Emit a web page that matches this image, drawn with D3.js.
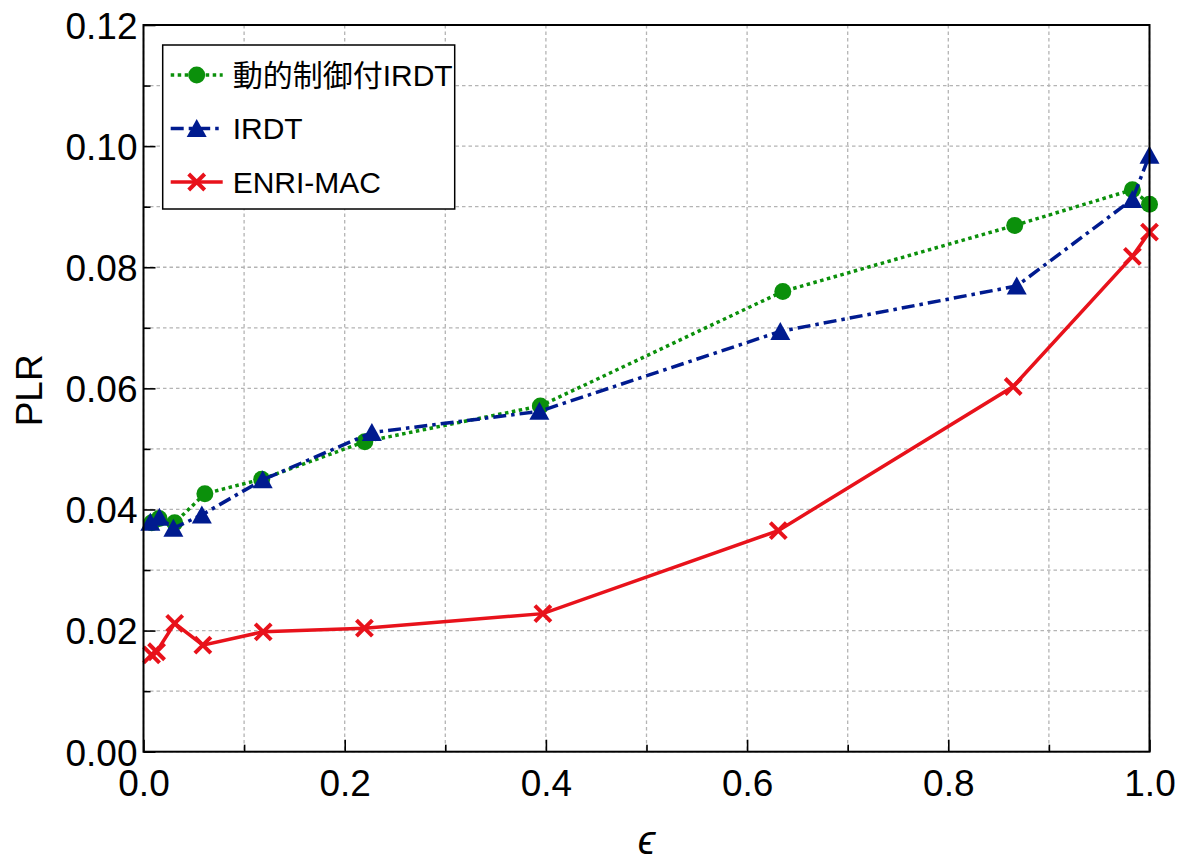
<!DOCTYPE html>
<html>
<head>
<meta charset="utf-8">
<script src="https://cdn.jsdelivr.net/npm/d3@7"></script>
<style>
  body { margin: 0; background: #fff; }
  svg text { font-family: "Liberation Sans", "Noto Sans CJK JP", sans-serif; fill: #000; }
</style>
</head>
<body>
<div id="chart"></div>
<script>
// Data
//---------
var seriesNames = ["動的制御付IRDT", "IRDT", "ENRI-MAC"];

var epsDyn = [0.0082, 0.0155, 0.031, 0.061, 0.1175, 0.220, 0.3945, 0.6355, 0.866, 0.983, 1.0];
var plrDyn = [0.0378, 0.0385, 0.0378, 0.0426, 0.0450, 0.0512, 0.0571, 0.0760, 0.0869, 0.0928, 0.0904];

var epsIrdt = [0.0068, 0.0158, 0.0297, 0.058, 0.1185, 0.227, 0.3935, 0.633, 0.868, 0.983, 1.0];
var plrIrdt = [0.0379, 0.0387, 0.0369, 0.0391, 0.0449, 0.0527, 0.0562, 0.0694, 0.0769, 0.0912, 0.0985];

var epsEnri = [0.008, 0.013, 0.031, 0.059, 0.119, 0.2196, 0.397, 0.631, 0.8645, 0.983, 1.0];
var plrEnri = [0.0160, 0.0165, 0.0212, 0.0176, 0.0198, 0.0204, 0.0228, 0.0365, 0.0603, 0.0818, 0.0858];

var xTicks = [0, 0.2, 0.4, 0.6, 0.8, 1.0];
var xMinor = [0.1, 0.3, 0.5, 0.7, 0.9];
var yTicks = [0, 0.02, 0.04, 0.06, 0.08, 0.10, 0.12];
var yMinor = [0.01, 0.03, 0.05, 0.07, 0.09, 0.11];

// Layout
//---------
var W = 1192, H = 861;
var m = {left: 143.5, right: 42.5, top: 25, bottom: 109.3};
var iw = W - m.left - m.right, ih = H - m.top - m.bottom;

var svg = d3.select("#chart").append("svg").attr("width", W).attr("height", H);
var g = svg.append("g").attr("transform", "translate(" + m.left + "," + m.top + ")");

var x = d3.scaleLinear().domain([0, 1]).range([0, iw]);
var y = d3.scaleLinear().domain([0, 0.12]).range([ih, 0]);

// Grid
//---------
var grid = g.append("g").attr("stroke", "#b4b4b4").attr("stroke-width", 1.3).attr("stroke-dasharray", "3.5,3");
grid.selectAll(".vg").data(xTicks.concat(xMinor)).join("line")
  .attr("x1", d => x(d)).attr("x2", d => x(d)).attr("y1", 0).attr("y2", ih);
grid.selectAll(".hg").data(yTicks.concat(yMinor)).join("line")
  .attr("x1", 0).attr("x2", iw).attr("y1", d => y(d)).attr("y2", d => y(d));

// Axes (ticks inward)
//---------
var fmtX = d3.format(".1f"), fmtY = d3.format(".2f");
var xAxis = g.append("g").attr("transform", "translate(0," + ih + ")")
  .call(d3.axisBottom(x).tickValues(xTicks).tickFormat(fmtX).tickSizeInner(-12).tickSizeOuter(0));
var xAxisMinor = g.append("g").attr("transform", "translate(0," + ih + ")")
  .call(d3.axisBottom(x).tickValues(xMinor).tickFormat("").tickSizeInner(-7).tickSizeOuter(0));
var yAxis = g.append("g")
  .call(d3.axisLeft(y).tickValues(yTicks).tickFormat(fmtY).tickSizeInner(-12).tickSizeOuter(0));
var yAxisMinor = g.append("g")
  .call(d3.axisLeft(y).tickValues(yMinor).tickFormat("").tickSizeInner(-7).tickSizeOuter(0));

[xAxis, xAxisMinor, yAxis, yAxisMinor].forEach(function(a) {
  a.select(".domain").remove();
  a.selectAll(".tick line").attr("stroke", "#000").attr("stroke-width", 1.6);
});
xAxis.selectAll(".tick text").attr("font-size", 37).attr("dy", null).attr("y", 44);
yAxis.selectAll(".tick text").attr("font-size", 37).attr("dy", "0.36em").attr("x", -6);

// Series
//---------
var series = [
  {name: seriesNames[0], xs: epsDyn, ys: plrDyn, color: "#0b900b", dash: "3.5,3.5", mark: "circle"},
  {name: seriesNames[1], xs: epsIrdt, ys: plrIrdt, color: "#001b8f", dash: "13,5,3.5,5", mark: "triangle"},
  {name: seriesNames[2], xs: epsEnri, ys: plrEnri, color: "#e8121b", dash: null, mark: "cross"}
];

var line = d3.line().x(d => x(d[0])).y(d => y(d[1]));

function drawMarker(sel, kind, color) {
  if (kind === "circle") {
    sel.append("circle").attr("r", 8.5).attr("fill", color);
  } else if (kind === "triangle") {
    sel.append("path").attr("d", "M0,-9.5L10,8.5L-10,8.5Z").attr("fill", color);
  } else {
    sel.append("path").attr("d", "M-8,-8L8,8M-8,8L8,-8")
      .attr("stroke", color).attr("stroke-width", 4).attr("fill", "none");
  }
}

series.forEach(function(s) {
  var pts = s.xs.map((v, i) => [v, s.ys[i]]);
  g.append("path").datum(pts).attr("d", line)
    .attr("fill", "none").attr("stroke", s.color).attr("stroke-width", 3.5)
    .attr("stroke-dasharray", s.dash);
  g.append("g").selectAll("g").data(pts).join("g")
    .attr("transform", d => "translate(" + x(d[0]) + "," + y(d[1]) + ")")
    .each(function() { drawMarker(d3.select(this), s.mark, s.color); });
});

// Frame
//---------
g.append("rect").attr("width", iw).attr("height", ih)
  .attr("fill", "none").attr("stroke", "#000").attr("stroke-width", 2);

// Legend
//---------
var lg = g.append("g").attr("transform", "translate(" + (162.7 - m.left) + "," + (45 - m.top) + ")");
lg.append("rect").attr("width", 292).attr("height", 164)
  .attr("fill", "#fff").attr("stroke", "#000").attr("stroke-width", 1.5);
series.forEach(function(s, i) {
  var row = lg.append("g").attr("transform", "translate(0," + (30 + i * 53.5) + ")");
  row.append("line").attr("x1", 8).attr("x2", 60)
    .attr("stroke", s.color).attr("stroke-width", 3.5).attr("stroke-dasharray", s.dash);
  drawMarker(row.append("g").attr("transform", "translate(34,0)"), s.mark, s.color);
  row.append("text").attr("x", 70).attr("dy", "0.36em").attr("font-size", 30).text(s.name);
});

// Axis labels
//---------
svg.append("text").attr("transform", "translate(42," + (m.top + ih / 2 + 2) + ") rotate(-90)")
  .attr("text-anchor", "middle").attr("font-size", 37).text("PLR");
svg.append("text").attr("x", m.left + iw / 2).attr("y", 854)
  .attr("text-anchor", "middle").attr("font-size", 40).attr("font-family", "DejaVu Sans")
  .attr("font-style", "italic").text("ϵ");
</script>
</body>
</html>
